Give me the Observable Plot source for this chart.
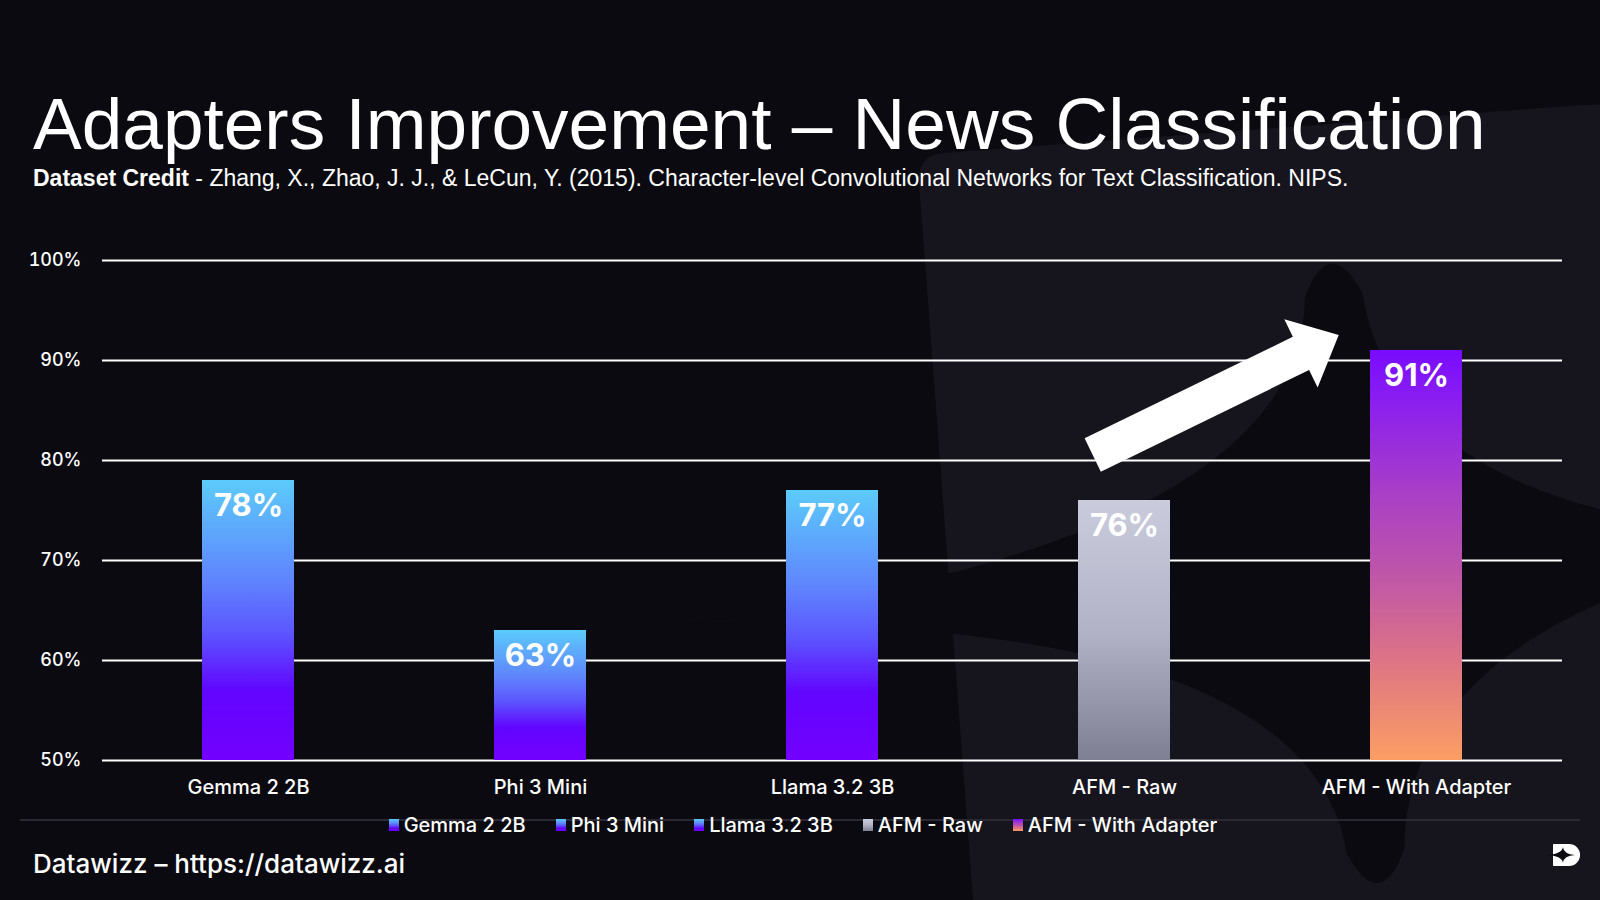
<!DOCTYPE html>
<html>
<head>
<meta charset="utf-8">
<script src="https://cdn.jsdelivr.net/npm/d3@7"></script>
<script src="https://cdn.jsdelivr.net/npm/@observablehq/plot@0.6"></script>
<style>
html,body{margin:0;padding:0;background:#0b0a11;}
#page{position:relative;width:1600px;height:900px;overflow:hidden;background:#0b0a11;font-family:Inter,sans-serif;color:#fff;}
#bg,#chart,#defs{position:absolute;left:0;top:0;}
#title{position:absolute;left:33px;top:87px;font-family:"Liberation Sans",Arial,sans-serif;font-size:73px;line-height:1;white-space:nowrap;}
#subtitle{position:absolute;left:33px;top:167px;font-family:"Liberation Sans",Arial,sans-serif;font-size:23px;line-height:1;white-space:nowrap;}
#subtitle b{font-weight:700;}
#sep{position:absolute;left:20px;top:819px;width:1560px;height:1.5px;background:#2a2832;}
#legend{position:absolute;left:0;top:815px;width:1600px;display:flex;justify-content:center;gap:30px;font-size:20px;line-height:1;font-weight:500;padding-left:6px;box-sizing:border-box;}
#legend .item{display:flex;align-items:center;gap:5px;}
#legend .sw{width:10px;height:12px;display:inline-block;}
#footer{position:absolute;left:33px;top:851px;font-size:26px;line-height:1;font-weight:500;white-space:nowrap;}
#logo{position:absolute;left:0;top:0;}
</style>
</head>
<body>
<div id="page">
  <svg id="bg" width="1600" height="900"></svg>
  <svg id="defs" width="0" height="0"></svg>
  <div id="chart"></div>
  <div id="title"></div>
  <div id="subtitle"></div>
  <div id="sep"></div>
  <div id="legend"></div>
  <div id="footer"></div>
  <svg id="logo" width="1600" height="900" style="pointer-events:none"></svg>
</div>
<script>
// ---- data ----
const models = ["Gemma 2 2B", "Phi 3 Mini", "Llama 3.2 3B", "AFM - Raw", "AFM - With Adapter"];
const accuracy = [78, 63, 77, 76, 91];
const gradientKeys = ["blue", "blue", "blue", "gray", "sunset"];
const yTicks = [50, 60, 70, 80, 90, 100];
const arrowFrom = {model: "AFM - Raw", value: 80.5, shift: -0.34};
const arrowTo = {model: "AFM - With Adapter", value: 92.5, shift: -0.84};
const titleText = "Adapters Improvement – News Classification";
const creditLabel = "Dataset Credit";
const creditText = " - Zhang, X., Zhao, J. J., & LeCun, Y. (2015). Character-level Convolutional Networks for Text Classification. NIPS.";
const footerText = "Datawizz – https://datawizz.ai";

// ---- styles ----
const gradients = {
  blue: [[0, "#5ccbfb"], [0.35, "#5f86fd"], [0.55, "#5c55fe"], [0.75, "#6106ff"], [1, "#7300ff"]],
  gray: [[0, "#cacbdc"], [0.5, "#b2b3c7"], [1, "#7e7f92"]],
  sunset: [[0, "#790bff"], [0.12, "#8a1ef0"], [0.35, "#a93fc6"], [0.55, "#bf56a8"], [0.75, "#dc7386"], [1, "#fc9e63"]]
};

const defs = d3.select("#defs").append("defs");
for (const [k, stops] of Object.entries(gradients)) {
  const g = defs.append("linearGradient").attr("id", "grad-" + k)
    .attr("x1", 0).attr("y1", 0).attr("x2", 0).attr("y2", 1);
  for (const [o, c] of stops) g.append("stop").attr("offset", o).attr("stop-color", c);
}

// background decorative logo
const logoD = "M3,0 H73 A50,50 0 0 1 73,100 H3 Q0,100 0,97 V3 Q0,0 3,0 Z";
const logoStarSharp = "M45,15 Q49,46 100,50 Q49,54 45,85 Q41,54 -30,50 Q41,46 45,15 Z";
const logoStarRound = "M41.8,19 Q45,12 48.2,19 Q50.5,46 100,50 Q50.5,54 48.2,81 Q45,88 41.8,81 Q39.5,54 -30,50 Q39.5,46 41.8,19 Z";
const bg = d3.select("#bg");
const bgG = bg.append("g").attr("transform", "translate(917,155) rotate(-4.3) scale(9)");
bgG.append("path").attr("d", logoD).attr("fill", "#16141d");
bgG.append("path").attr("d", logoStarRound).attr("fill", "#0b0a11");

// ---- texts ----
d3.select("#title").text(titleText);
const sub = d3.select("#subtitle");
sub.append("b").text(creditLabel);
sub.append("span").text(creditText);
d3.select("#footer").text(footerText);

const legend = d3.select("#legend");
models.forEach((m, i) => {
  const it = legend.append("div").attr("class", "item");
  const st = gradients[gradientKeys[i]].map(([o, c]) => `${c} ${o * 100}%`).join(",");
  it.append("span").attr("class", "sw").style("background", `linear-gradient(to bottom, ${st})`);
  it.append("span").text(m);
});

// small logo bottom right
const lg = d3.select("#logo").append("g").attr("transform", "translate(1553,844) scale(0.22)");
lg.append("path").attr("d", logoD).attr("fill", "#fff");
lg.append("path").attr("d", logoStarSharp).attr("fill", "#0b0a11");

// ---- chart ----
const data = models.map((m, i) => ({model: m, value: accuracy[i], fill: `url(#grad-${gradientKeys[i]})`}));

function arrowMark(index, scales) {
  const sx = scales.x, sy = scales.y;
  let bw = sx.bandwidth;
  if (typeof bw === "function") bw = bw();
  if (!bw && scales.scales && scales.scales.x) bw = scales.scales.x.bandwidth;
  bw = bw || 0;
  const px = (a) => sx(a.model) + bw / 2 + a.shift * bw;
  const t = [px(arrowFrom), sy(arrowFrom.value)];
  const h = [px(arrowTo), sy(arrowTo.value)];
  const dx = h[0] - t[0], dy = h[1] - t[1], L = Math.hypot(dx, dy);
  const u = [dx / L, dy / L], n = [-u[1], u[0]];
  const sw = 37, hw = 76, hl = 42;
  const b = [h[0] - u[0] * hl, h[1] - u[1] * hl];
  const p = (c, k) => [c[0] + n[0] * k, c[1] + n[1] * k];
  const pts = [p(t, sw / 2), p(b, sw / 2), p(b, hw / 2), h, p(b, -hw / 2), p(b, -sw / 2), p(t, -sw / 2)];
  const poly = document.createElementNS("http://www.w3.org/2000/svg", "polygon");
  poly.setAttribute("points", pts.map(q => q.join(",")).join(" "));
  poly.setAttribute("fill", "#fff");
  return poly;
}

const chart = Plot.plot({
  width: 1600,
  height: 820,
  marginTop: 260,
  marginBottom: 60,
  marginLeft: 102,
  marginRight: 38,
  style: {background: "transparent", color: "#fff", fontFamily: "Inter, sans-serif", overflow: "visible"},
  x: {domain: models, paddingInner: 0.685, paddingOuter: 0.3425, label: null},
  y: {domain: [50, 100], label: null},
  color: {type: "identity"},
  marks: [
    Plot.ruleY(yTicks, {stroke: "#fff", strokeWidth: 1.8}),
    Plot.barY(data, {x: "model", y1: 50, y2: "value", fill: "fill"}),
    Plot.text(data, {x: "model", y: "value", text: d => d.value + "%", dy: 26, fill: "#fff", fontSize: 31, fontWeight: 700, lineAnchor: "middle"}),
    arrowMark,
    Plot.axisX({tickSize: 0, tickPadding: 19, fontSize: 20, fontWeight: 500, color: "#fff", label: null}),
    Plot.axisY({ticks: yTicks, tickFormat: d => d + "%", tickSize: 0, tickPadding: 21, fontSize: 18, fontWeight: 500, color: "#fff", label: null})
  ]
});
document.getElementById("chart").appendChild(chart);
</script>
</body>
</html>
